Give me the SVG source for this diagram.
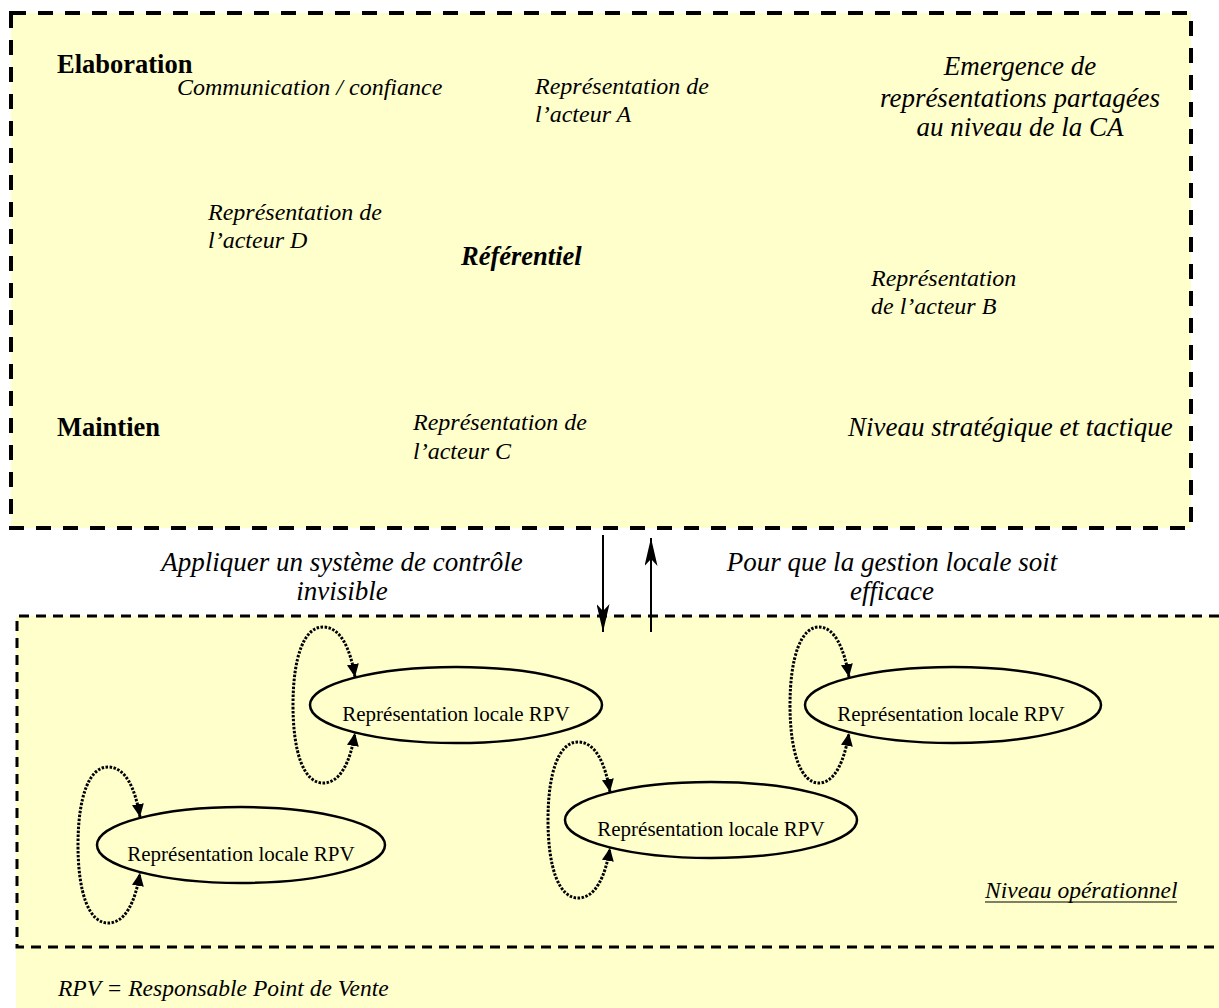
<svg xmlns="http://www.w3.org/2000/svg" width="1219" height="1008" viewBox="0 0 1219 1008">
<style>
  text { font-family: "Liberation Serif", "Times New Roman", serif; fill: #000; }
  .it { font-style: italic; font-size: 24px; }
  .it27 { font-style: italic; font-size: 27px; }
  .sm { font-style: italic; font-size: 23.5px; }
  .bd { font-weight: bold; font-size: 26.5px; }
  .bi { font-weight: bold; font-style: italic; font-size: 26.5px; }
  .el { font-size: 21px; }
  .mid { text-anchor: middle; }
  .node { fill: none; stroke: #000; stroke-width: 2.5; }
  .loop { fill: none; stroke: #000; stroke-width: 3; stroke-dasharray: 2.5 1.5; marker-start: url(#tri); marker-end: url(#tri); }
  .flow { stroke: #000; stroke-width: 2; fill: none; marker-end: url(#big); }
</style>
<defs>
  <marker id="tri" markerUnits="userSpaceOnUse" viewBox="0 0 13 12" markerWidth="13" markerHeight="12" refX="13" refY="6" orient="auto-start-reverse">
    <path d="M0,0 L13,6 L0,12 Z" fill="#000"/>
  </marker>
  <marker id="big" markerUnits="userSpaceOnUse" viewBox="0 0 28 13" markerWidth="28" markerHeight="13" refX="28" refY="6.5" orient="auto">
    <path d="M0,0 L28,6.5 L0,13 L7,6.5 Z" fill="#000"/>
  </marker>
</defs>

<!-- upper box -->
<g id="strategic-level">
  <rect x="11" y="13" width="1180" height="515" fill="#FFFFCC" stroke="#000" stroke-width="4" stroke-dasharray="15 12"/>
  <text class="bd" x="57" y="73">Elaboration</text>
  <text class="it" x="177" y="95">Communication / confiance</text>
  <text class="bd" x="57" y="436">Maintien</text>
  <text class="it27" x="848" y="436">Niveau stratégique et tactique</text>
  <text class="it27 mid" x="1020" y="75">Emergence de</text>
  <text class="it27 mid" x="1020" y="107">représentations partagées</text>
  <text class="it27 mid" x="1020" y="136">au niveau de la CA</text>
</g>
<g id="acteur-A"><text class="it" x="535" y="94">Représentation de</text><text class="it" x="535" y="122">l’acteur A</text></g>
<g id="acteur-D"><text class="it" x="208" y="220">Représentation de</text><text class="it" x="208" y="248">l’acteur D</text></g>
<g id="referentiel"><text class="bi" x="461" y="265">Référentiel</text></g>
<g id="acteur-B"><text class="it" x="871" y="286">Représentation</text><text class="it" x="871" y="314">de l’acteur B</text></g>
<g id="acteur-C"><text class="it" x="413" y="430">Représentation de</text><text class="it" x="413" y="459">l’acteur C</text></g>

<!-- lower box -->
<g id="operational-level">
  <rect x="16" y="616" width="1203" height="392" fill="#FFFFCC"/>
  <path d="M1219,616 H17 V947 H1219" fill="none" stroke="#000" stroke-width="3" stroke-dasharray="10 7"/>
  <text class="sm" x="985" y="898">Niveau opérationnel</text>
  <line x1="985" y1="902" x2="1177" y2="902" stroke="#000" stroke-width="1.2"/>
  <text class="sm" x="58" y="996">RPV = Responsable Point de Vente</text>
</g>

<g id="labels">
  <text class="it27 mid" x="342" y="571">Appliquer un système de contrôle</text>
  <text class="it27 mid" x="342" y="600">invisible</text>
  <text class="it27 mid" x="892" y="571">Pour que la gestion locale soit</text>
  <text class="it27 mid" x="892" y="600">efficace</text>
</g>

<g id="rpv-1"><ellipse class="node" cx="456" cy="705" rx="146" ry="38"/><text class="el mid" x="456" y="721">Représentation locale RPV</text></g>
<g id="rpv-2"><ellipse class="node" cx="241" cy="845" rx="144" ry="38"/><text class="el mid" x="241" y="861">Représentation locale RPV</text></g>
<g id="rpv-3"><ellipse class="node" cx="711" cy="820" rx="146" ry="38"/><text class="el mid" x="711" y="836">Représentation locale RPV</text></g>
<g id="rpv-4"><ellipse class="node" cx="953" cy="705" rx="148" ry="38"/><text class="el mid" x="951" y="721">Représentation locale RPV</text></g>

<g id="connectors">
  <line class="flow" x1="603" y1="535" x2="603" y2="632"/>
  <line class="flow" x1="651" y1="632" x2="651" y2="538"/>
  <path class="loop" transform="translate(456,705)" d="M-101,-28 C-106,-58 -116,-78 -133,-78 C-152,-78 -163,-48 -163,0 C-163,48 -152,78 -133,78 C-116,78 -106,58 -101,28"/>
  <path class="loop" transform="translate(241,845)" d="M-101,-28 C-106,-58 -116,-78 -133,-78 C-152,-78 -163,-48 -163,0 C-163,48 -152,78 -133,78 C-116,78 -106,58 -101,28"/>
  <path class="loop" transform="translate(711,820)" d="M-101,-28 C-106,-58 -116,-78 -133,-78 C-152,-78 -163,-48 -163,0 C-163,48 -152,78 -133,78 C-116,78 -106,58 -101,28"/>
  <path class="loop" transform="translate(953,705)" d="M-104,-28 C-109,-58 -119,-78 -134,-78 C-152,-78 -163,-48 -163,0 C-163,48 -152,78 -134,78 C-119,78 -109,58 -104,28"/>
</g>
</svg>
